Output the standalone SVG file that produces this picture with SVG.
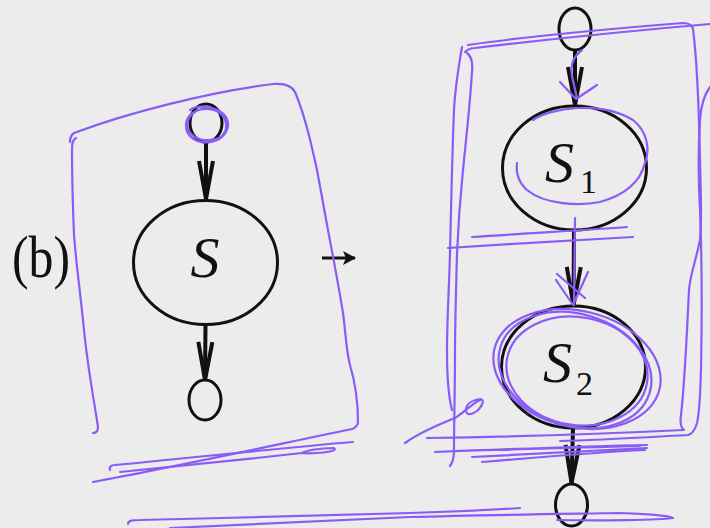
<svg xmlns="http://www.w3.org/2000/svg" width="710" height="528" viewBox="0 0 710 528">
  <style>
    .shape { fill: none; stroke: #111; stroke-width: 3; }
    .edge { fill: none; stroke: #111; stroke-width: 4; }
    .lbl { font-family: "Liberation Serif", "Times New Roman", serif; fill: #111; }
    .it { font-style: italic; }
    .ink { fill: none; stroke: #8a5cf6; stroke-width: 2.2; stroke-linecap: round; stroke-linejoin: round; }
  </style>
  <defs>
    <!-- long narrow barbed head used by every flow edge -->
    <marker id="barb" markerUnits="userSpaceOnUse" markerWidth="46" markerHeight="20" viewBox="-42 -10 46 20" refX="0" refY="0" orient="auto">
      <path d="M-38,-7 L0,0 L-38,7" fill="none" stroke="#111" stroke-width="4" stroke-linejoin="miter"/>
    </marker>
    <marker id="tip" markerUnits="userSpaceOnUse" markerWidth="14" markerHeight="16" viewBox="-12 -8 14 16" refX="0" refY="0" orient="auto">
      <path d="M-12,-7 L1,0 L-12,7 L-9,0 Z" fill="#111"/>
    </marker>
  </defs>

  <rect width="710" height="528" fill="#ececec"/>

  <!-- label -->
  <text class="lbl" x="12" y="277" font-size="60" textLength="58" lengthAdjust="spacingAndGlyphs">(b)</text>

  <!-- left: single state -->
  <g id="l-start"><ellipse class="shape" cx="206" cy="123" rx="16" ry="19"/></g>
  <g id="l-S">
    <ellipse class="shape" cx="205.5" cy="262.5" rx="72" ry="62"/>
    <text class="lbl it" x="205" y="277" font-size="58" text-anchor="middle">S</text>
  </g>
  <g id="l-end"><ellipse class="shape" cx="205" cy="400" rx="16" ry="20"/></g>

  <!-- rewrite arrow -->
  <g id="rewrite">
    <line x1="322" y1="258" x2="355" y2="258" stroke="#111" stroke-width="3" marker-end="url(#tip)"/>
  </g>

  <!-- right: two states in sequence -->
  <g id="r-start"><ellipse class="shape" cx="575" cy="29" rx="16" ry="21"/></g>
  <g id="r-S1">
    <ellipse class="shape" cx="574.5" cy="168" rx="72" ry="62"/>
    <text class="lbl it" x="545" y="182" font-size="58">S</text>
    <text class="lbl" x="580" y="193" font-size="34">1</text>
  </g>
  <g id="r-S2">
    <ellipse class="shape" cx="573.5" cy="367" rx="72" ry="61"/>
    <text class="lbl it" x="543" y="382" font-size="58">S</text>
    <text class="lbl" x="576" y="395" font-size="34">2</text>
  </g>
  <g id="r-end"><ellipse class="shape" cx="571.5" cy="505" rx="16" ry="21"/></g>

  <g id="edges">
    <line class="edge" x1="206" y1="142" x2="206" y2="199" marker-end="url(#barb)"/>
    <line class="edge" x1="205.5" y1="325" x2="205" y2="380" marker-end="url(#barb)"/>
    <line class="edge" x1="575" y1="50" x2="575" y2="105" marker-end="url(#barb)"/>
    <line class="edge" x1="574" y1="230" x2="573.5" y2="305" marker-end="url(#barb)"/>
    <line class="edge" x1="573" y1="428" x2="571.5" y2="483" marker-end="url(#barb)"/>
  </g>

  <!-- pen annotations -->
  <g id="ink">
    <!-- left frame -->
    <path class="ink" d="M70,142 C70,138 71,135 74,133 C130,112 210,92 273,84 C285,83 292,86 295,92 C305,115 316,160 322,197 C328,232 337,275 343,313 C346,335 346,350 350,365 C356,385 358,405 358,423 C357,426 355,428 352,429 C270,446 170,468 93,482"/>
    <path class="ink" d="M76,138 C72,140 72,145 72,150 C72,180 73,210 74,235 C76,262 80,290 84,330 C88,370 94,400 98,427 C98,431 96,433 93,433"/>
    <path class="ink" d="M110,470 C109,467 111,465 115,465 C190,458 280,448 353,442"/>
    <path class="ink" d="M334,448 C318,448 305,451 302,453 C315,454 335,452 335,449 M302,453 C240,460 170,467 120,472"/>
    <path class="ink" d="M190,110 C198,104 218,106 226,117 C232,128 224,140 210,142 C195,144 185,135 186,124 C187,113 200,106 214,110 C226,114 230,127 222,136 C214,143 196,142 189,131 C184,122 191,110 206,108 C221,108 228,119 226,130 C224,138 214,141 204,140"/>

    <!-- right frame -->
    <path class="ink" d="M468,45 C530,36 620,28 683,23 C688,23 692,25 693,29 C697,60 699,110 700,160 C701,200 702,220 700,240 C696,260 690,275 689,290 C687,330 685,380 681,415 C680,422 681,428 684,430 C600,434 500,437 427,438"/>
    <path class="ink" d="M465,52 C468,49 470,48 475,48 C560,38 640,30 710,24"/>
    <path class="ink" d="M710,87 C704,95 701,105 700,120 C698,150 698,175 700,210 C702,260 702,320 701,370 C700,395 700,410 697,423 C695,430 692,434 688,435 C650,437 600,440 560,441"/>
    <path class="ink" d="M462,47 C458,70 455,90 454,110 C452,160 451,210 450,253 C449,290 447,320 447,350 C447,375 448,395 452,410"/>
    <path class="ink" d="M467,53 C471,56 473,62 472,72 C470,105 466,140 463,170 C460,200 458,230 457,253 C456,290 455,330 455,353 C455,390 454,420 454,450 C454,457 453,462 450,466"/>
    <path class="ink" d="M448,248 C510,244 580,240 633,237 M472,237 C530,233 590,230 627,227"/>
    <path class="ink" d="M533,120 C550,108 600,100 633,120 C648,132 650,150 645,163 C640,183 625,195 600,202 C580,206 545,205 527,190 C518,182 516,172 517,163"/>
    <path class="ink" d="M582,50 C574,56 570,65 572,76 L577,98 M560,82 L576,99 L597,85"/>
    <path class="ink" d="M575,218 L574,305 M556,280 L573,305 L588,272 M557,274 L585,298"/>
    <ellipse class="ink" cx="577" cy="369" rx="85" ry="58" transform="rotate(14 577 369)"/>
    <ellipse class="ink" cx="575" cy="370" rx="78" ry="56" transform="rotate(17 575 370)"/>
    <ellipse class="ink" cx="577" cy="371" rx="71" ry="54" transform="rotate(10 577 371)"/>
    <path class="ink" d="M405,443 C420,432 440,424 455,418 C465,412 470,405 480,400 C484,398 484,404 478,410 C472,415 466,416 466,410 C466,404 472,400 481,399"/>
    <path class="ink" d="M435,452 C510,449 590,446 647,445 M472,457 C540,453 600,450 647,448 M482,462 C540,457 600,452 645,450 M497,450 C550,448 600,447 640,446"/>

    <!-- bottom strokes -->
    <path class="ink" d="M128,524 C128,521 131,520 140,520 C230,518 330,515 410,513 C450,512 490,510 520,508"/>
    <path class="ink" d="M170,528 C260,524 340,520 410,517 C480,515 560,514 620,513 C650,514 672,516 673,518 C660,520 600,521 557,520"/>
  </g>
</svg>
